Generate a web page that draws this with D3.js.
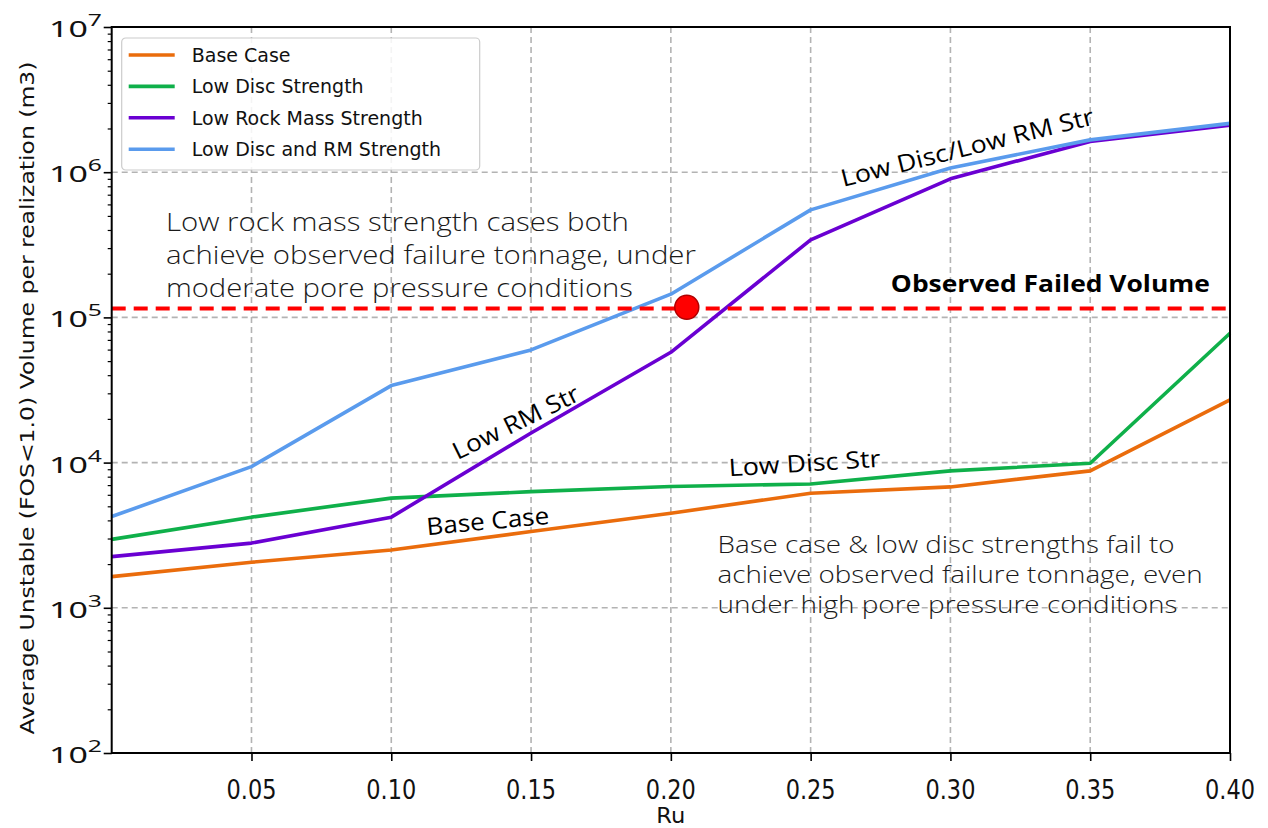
<!DOCTYPE html>
<html>
<head>
<meta charset="utf-8">
<script src="https://cdn.jsdelivr.net/npm/d3@7"></script>
<style>
  html, body { margin: 0; padding: 0; background: #fff; }
  svg { display: block; }
</style>
</head>
<body>
<svg id="chart" width="1268" height="828"></svg>
<script>
// ---------------- data ----------------
const ru = [0.0, 0.05, 0.10, 0.15, 0.20, 0.25, 0.30, 0.35, 0.40];
const baseCase = [1640, 2060, 2500, 3350, 4480, 6150, 6800, 8770, 27000];
const lowDisc = [2960, 4210, 5690, 6310, 6840, 7130, 8770, 9900, 77800];
const lowRockMass = [2250, 2790, 4210, 16000, 57500, 342000, 900000, 1630000, 2110000];
const lowDiscAndRM = [4250, 9380, 33900, 59700, 144500, 550000, 1070000, 1670000, 2170000];
const seriesNames = ["Base Case", "Low Disc Strength", "Low Rock Mass Strength", "Low Disc and RM Strength"];
const seriesColors = ["#ea6c0c", "#0fb04a", "#6a00d2", "#5a9bed"];
const xTicks = [0.05, 0.10, 0.15, 0.20, 0.25, 0.30, 0.35, 0.40];
const xTickLabels = ["0.05", "0.10", "0.15", "0.20", "0.25", "0.30", "0.35", "0.40"];
const yTickExp = [2, 3, 4, 5, 6, 7];
const observedVolume = 115000;
const observedPoint = { ru: 0.2057, v: 117500 };
const xLabel = "Ru";
const yLabel = "Average Unstable (FOS<1.0) Volume per realization (m3)";
const observedLabel = "Observed Failed Volume";
const noteTopLeft = ["Low rock mass strength cases both", "achieve observed failure tonnage, under", "moderate pore pressure conditions"];
const noteBottomRight = ["Base case & low disc strengths fail to", "achieve observed failure tonnage, even", "under high pore pressure conditions"];
const lineLabels = [
  { text: "Low Disc/Low RM Str", ru: 0.306, v: 1490000, angle: -14, len: 260 },
  { text: "Low RM Str", ru: 0.1445, v: 19000, angle: -26, len: 138 },
  { text: "Low Disc Str", ru: 0.2478, v: 9950, angle: -3.6, len: 152 },
  { text: "Base Case", ru: 0.1345, v: 3970, angle: -5.3, len: 123 }
];

(function () {
// ---------------- layout ----------------
const svg = d3.select("#chart");
const mLeft = 111.7, mRight = 1230, mTop = 27, mBottom = 753;

const x = d3.scaleLinear().domain([0, 0.40]).range([mLeft, mRight]);
const y = d3.scaleLog().domain([100, 1e7]).range([mBottom, mTop]);

// grid
const grid = svg.append("g");
grid.selectAll("line.gx").data(xTicks.slice(0, -1)).enter().append("line")
  .attr("x1", d => x(d)).attr("x2", d => x(d)).attr("y1", mTop).attr("y2", mBottom)
  .attr("stroke", "#b3b3b3").attr("stroke-width", 1.6).attr("stroke-dasharray", "6,4");
grid.selectAll("line.gy").data(yTickExp.slice(1, -1)).enter().append("line")
  .attr("x1", mLeft).attr("x2", mRight).attr("y1", d => y(Math.pow(10, d))).attr("y2", d => y(Math.pow(10, d)))
  .attr("stroke", "#b3b3b3").attr("stroke-width", 1.6).attr("stroke-dasharray", "6,4");

// axes
const xAxis = d3.axisBottom(x).tickValues(xTicks).tickSize(8).tickFormat("");
const gx = svg.append("g").attr("transform", `translate(0,${mBottom})`).call(xAxis);
gx.select(".domain").remove();
gx.selectAll(".tick line").attr("stroke", "#000").attr("stroke-width", 1.6);

const minorVals = [];
for (let e = 2; e < 7; e++) for (let m = 2; m <= 9; m++) minorVals.push(m * Math.pow(10, e));
const yAxisMinor = d3.axisLeft(y).tickValues(minorVals).tickSize(4).tickFormat("");
const gyMinor = svg.append("g").attr("transform", `translate(${mLeft},0)`).call(yAxisMinor);
gyMinor.select(".domain").remove();
gyMinor.selectAll(".tick line").attr("stroke", "#000").attr("stroke-width", 1.2);
const yAxis = d3.axisLeft(y).tickValues(yTickExp.map(e => Math.pow(10, e))).tickSize(8).tickFormat("");
const gy = svg.append("g").attr("transform", `translate(${mLeft},0)`).call(yAxis);
gy.select(".domain").remove();
gy.selectAll(".tick line").attr("stroke", "#000").attr("stroke-width", 1.6);

// x tick labels
svg.append("g").selectAll("text").data(xTicks).enter().append("text")
  .attr("x", d => x(d)).attr("y", mBottom + 46)
  .attr("text-anchor", "middle")
  .attr("font-family", "DejaVu Sans")
  .attr("font-size", 26)
  .attr("textLength", 50).attr("lengthAdjust", "spacingAndGlyphs")
  .attr("fill", "#111")
  .text((d, i) => xTickLabels[i]);

// y tick labels
const yt = svg.append("g").selectAll("text").data(yTickExp).enter().append("text")
  .attr("x", 49).attr("y", d => y(Math.pow(10, d)) + 10)
  .attr("font-family", "Noto Sans")
  .attr("font-size", 22)
  .attr("fill", "#111")
  .attr("textLength", 53).attr("lengthAdjust", "spacingAndGlyphs");
yt.append("tspan").text("10");
yt.append("tspan").attr("font-size", 16).attr("dy", -11).text(d => d);

// axis labels
svg.append("text").attr("x", (mLeft + mRight) / 2).attr("y", 823)
  .attr("text-anchor", "middle").attr("font-family", "DejaVu Sans").attr("font-size", 21)
  .attr("textLength", 29).attr("lengthAdjust", "spacingAndGlyphs")
  .attr("fill", "#111").text(xLabel);
svg.append("text").attr("transform", `translate(34,${(mTop + mBottom) / 2 + 8}) rotate(-90)`)
  .attr("text-anchor", "middle").attr("font-family", "DejaVu Sans").attr("font-size", 20)
  .attr("textLength", 673).attr("lengthAdjust", "spacingAndGlyphs")
  .attr("fill", "#111").text(yLabel);

// series lines
const allSeries = [baseCase, lowDisc, lowRockMass, lowDiscAndRM];
const line = d3.line().x((d, i) => x(ru[i])).y(d => y(d));
svg.append("g").selectAll("path").data(allSeries).enter().append("path")
  .attr("d", d => line(d))
  .attr("fill", "none")
  .attr("stroke", (d, i) => seriesColors[i])
  .attr("stroke-width", 3.6)
  .attr("stroke-linejoin", "round");

// observed line
svg.append("line")
  .attr("x1", mLeft).attr("x2", mRight)
  .attr("y1", y(observedVolume)).attr("y2", y(observedVolume))
  .attr("stroke", "#ff0000").attr("stroke-width", 4).attr("stroke-dasharray", "14,8");

svg.append("circle")
  .attr("cx", x(observedPoint.ru)).attr("cy", y(observedPoint.v)).attr("r", 12)
  .attr("fill", "#ff0000").attr("stroke", "#b00000").attr("stroke-width", 1.5);

// frame
svg.append("rect").attr("x", mLeft).attr("y", mTop).attr("width", mRight - mLeft).attr("height", mBottom - mTop)
  .attr("fill", "none").attr("stroke", "#000").attr("stroke-width", 2);

// observed label
svg.append("text")
  .attr("x", x(0.3928)).attr("y", y(observedVolume) - 17)
  .attr("text-anchor", "end").attr("font-family", "Open Sans").attr("font-weight", 700)
  .attr("font-size", 24).attr("fill", "#000")
  .attr("textLength", 319).attr("lengthAdjust", "spacingAndGlyphs")
  .text(observedLabel);

// line labels
const ll = svg.append("g").selectAll("g").data(lineLabels).enter().append("g")
  .attr("transform", d => `translate(${x(d.ru)},${y(d.v)}) rotate(${d.angle})`);
ll.append("text")
  .attr("text-anchor", "middle").attr("dy", "0.36em")
  .attr("font-family", "Open Sans").attr("font-weight", 500).attr("font-size", 24).attr("fill", "#000")
  .attr("textLength", d => d.len).attr("lengthAdjust", "spacingAndGlyphs")
  .text(d => d.text);

// notes
const tlWidths = [463, 530, 467];
svg.append("g").selectAll("text").data(noteTopLeft).enter().append("text")
  .attr("x", x(0.0194)).attr("y", (d, i) => 231 + i * 33)
  .attr("font-family", "Open Sans").attr("font-weight", 300).attr("font-size", 26).attr("fill", "#1a1a1a")
  .attr("textLength", (d, i) => tlWidths[i]).attr("lengthAdjust", "spacingAndGlyphs")
  .text(d => d);
const brWidths = [457, 485, 460];
svg.append("g").selectAll("text").data(noteBottomRight).enter().append("text")
  .attr("x", x(0.2167)).attr("y", (d, i) => 553 + i * 30)
  .attr("font-family", "Open Sans").attr("font-weight", 300).attr("font-size", 24).attr("fill", "#1a1a1a")
  .attr("textLength", (d, i) => brWidths[i]).attr("lengthAdjust", "spacingAndGlyphs")
  .text(d => d);

// legend
const lg = svg.append("g").attr("transform", `translate(${mLeft + 10},38)`);
lg.append("rect").attr("x", 0).attr("y", 0).attr("width", 358).attr("height", 132).attr("rx", 4)
  .attr("fill", "#fff").attr("fill-opacity", 0.85).attr("stroke", "#cccccc").attr("stroke-width", 1.2);
const items = lg.selectAll("g.item").data(seriesNames).enter().append("g")
  .attr("transform", (d, i) => `translate(0,${17 + i * 31.4})`);
items.append("line").attr("x1", 7).attr("x2", 53).attr("y1", 0).attr("y2", 0)
  .attr("stroke", (d, i) => seriesColors[i]).attr("stroke-width", 3.6);
items.append("text").attr("x", 70).attr("y", 7)
  .attr("font-family", "DejaVu Sans").attr("font-size", 19).attr("fill", "#111")
  .text(d => d);
})();
</script>
</body>
</html>
